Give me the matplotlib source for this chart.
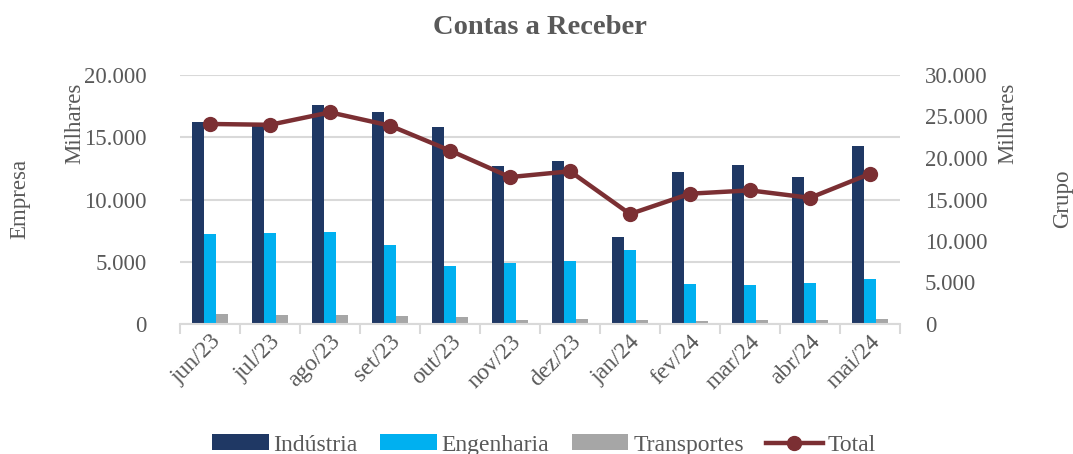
import numpy as np
from matplotlib import pyplot as plt
from matplotlib.ticker import FuncFormatter

plt.rcParams['font.family'] = ['Liberation Serif', 'DejaVu Serif']

meses = ["jun/23", "jul/23", "ago/23", "set/23", "out/23", "nov/23",
         "dez/23", "jan/24", "fev/24", "mar/24", "abr/24", "mai/24"]
industria = [16200, 15900, 17600, 17000, 15800, 12700, 13100, 7000, 12200, 12800, 11800, 14300]
engenharia = [7230, 7280, 7390, 6370, 4690, 4900, 5100, 5940, 3200, 3100, 3300, 3600]
transportes = [800, 700, 720, 640, 560, 300, 370, 300, 280, 300, 300, 430]
total = [24100, 24000, 25500, 23900, 20900, 17700, 18400, 13250, 15700, 16100, 15200, 18100]

cor_ind = "#1f3864"
cor_eng = "#00b0f0"
cor_tra = "#a6a6a6"
cor_tot = "#7b2f33"
cinza = "#595959"
grade = "#d9d9d9"


def milhar(v, pos):
    return f"{int(v):,}".replace(",", ".")


fig = plt.figure(figsize=(10.73, 4.54), dpi=100)
ax = fig.add_axes([180 / 1073, 1 - 324 / 454, 720 / 1073, 249 / 454])
x = np.arange(len(meses))
w = 0.2

b1 = ax.bar(x - w, industria, w, color=cor_ind, label="Indústria", zorder=2)
b2 = ax.bar(x, engenharia, w, color=cor_eng, label="Engenharia", zorder=2)
b3 = ax.bar(x + w, transportes, w, color=cor_tra, label="Transportes", zorder=2)

ax.set_xlim(-0.5, len(meses) - 0.5)
ax.set_ylim(0, 20000)
ax.set_yticks(range(0, 20001, 5000))
ax.yaxis.set_major_formatter(FuncFormatter(milhar))
ax.yaxis.grid(True, color=grade, linewidth=1.5, zorder=0)
ax.set_axisbelow(True)
for s in ["top", "right", "left"]:
    ax.spines[s].set_visible(False)
ax.spines["bottom"].set_color(grade)
ax.spines["bottom"].set_linewidth(1.5)
ax.tick_params(axis="y", length=0, labelsize=16.5, labelcolor=cinza, pad=24)

ax.set_xticks(x)
ax.set_xticklabels(meses, rotation=45, ha="right", rotation_mode="anchor",
                   fontsize=17, color=cinza)
ax.tick_params(axis="x", which="major", length=0, pad=5)
ax.set_xticks(np.arange(-0.5, len(meses)), minor=True)
ax.tick_params(axis="x", which="minor", length=7, width=1.5, color=grade)

ax2 = ax.twinx()
ln, = ax2.plot(x, total, color=cor_tot, linewidth=3.2, marker="o",
               markersize=10, label="Total", zorder=3)
ax2.set_ylim(0, 30000)
ax2.set_yticks(range(0, 30001, 5000))
ax2.yaxis.set_major_formatter(FuncFormatter(milhar))
for s in ax2.spines.values():
    s.set_visible(False)
ax2.tick_params(axis="y", length=0, labelsize=16.5, labelcolor=cinza, pad=18)

fig.text(540 / 1073, 1 - 27 / 454, "Contas a Receber", ha="center", va="center",
         fontsize=20.5, fontweight="bold", color=cinza)
fig.text(20 / 1073, 1 - 199 / 454, "Empresa", rotation=90, ha="center", va="center",
         fontsize=16.5, color=cinza)
fig.text(75 / 1073, 1 - 123 / 454, "Milhares", rotation=90, ha="center", va="center",
         fontsize=16.5, color=cinza)
fig.text(1008 / 1073, 1 - 123 / 454, "Milhares", rotation=90, ha="center", va="center",
         fontsize=16.5, color=cinza)
fig.text(1063 / 1073, 1 - 199 / 454, "Grupo", rotation=90, ha="center", va="center",
         fontsize=16.5, color=cinza)

leg = fig.legend([b1, b2, b3, ln], ["Indústria", "Engenharia", "Transportes", "Total"],
                 loc="center", bbox_to_anchor=(544 / 1073, 1 - 445 / 454), ncol=4,
                 frameon=False, fontsize=17, handlelength=2.4, handleheight=0.65,
                 columnspacing=0.95, handletextpad=0.2, labelcolor=cinza)

plt.savefig("out.png", dpi=100)
